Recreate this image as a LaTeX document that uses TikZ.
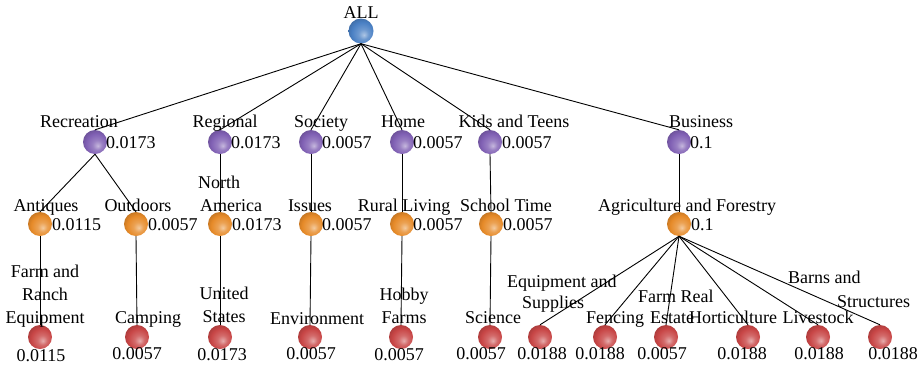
\documentclass[tikz,border=0pt]{standalone}
\usepackage{fontspec}
\setmainfont{Liberation Serif}

% sphere colours, one per tree level
\definecolor{sphBlueC}{HTML}{4A80C4}
\definecolor{sphPurpleC}{HTML}{8060B4}
\definecolor{sphOrangeC}{HTML}{E68A28}
\definecolor{sphRedC}{HTML}{C84646}

% glossy sphere shadings, lit from the lower right
\newcommand\declsphere[2]{%
  \pgfdeclareradialshading{#1}{\pgfpoint{6bp}{-8bp}}{%
    color(0bp)=(#2!45!white); color(10bp)=(#2!80!white);
    color(22bp)=(#2); color(33bp)=(#2!80!black); color(50bp)=(#2!45!black)}}
\declsphere{sphblue}{sphBlueC}
\declsphere{sphpurple}{sphPurpleC}
\declsphere{sphorange}{sphOrangeC}
\declsphere{sphred}{sphRedC}

\tikzset{
  sph/.style={circle, minimum size=24pt, inner sep=0pt, shading=sph#1},
  txt/.style={font=\fontsize{18}{23}\selectfont, inner sep=0pt, anchor=base},
  val/.style={txt, anchor=base west},
  edge/.style={draw=black, line width=0.9pt},
}

\begin{document}
\begin{tikzpicture}[x=1pt, y=-1pt]
\useasboundingbox[fill=white] (0,0) rectangle (920,370);

% ---------- spheres ----------
\node[sph=blue, minimum size=25pt] (all) at (361,31) {};

\node[sph=purple] (rec)  at (95,142)  {};
\node[sph=purple] (reg)  at (220,142) {};
\node[sph=purple] (soc)  at (311,142) {};
\node[sph=purple] (home) at (402,142) {};
\node[sph=purple] (kids) at (490,142) {};
\node[sph=purple] (bus)  at (679,142) {};

\node[sph=orange] (ant)  at (40,224)  {};
\node[sph=orange] (out)  at (136,224) {};
\node[sph=orange] (na)   at (220,224) {};
\node[sph=orange] (iss)  at (311,224) {};
\node[sph=orange] (rur)  at (402,224) {};
\node[sph=orange] (sch)  at (491,224) {};
\node[sph=orange] (agr)  at (679,224) {};

\node[sph=red] (frm)  at (40,337)  {};
\node[sph=red] (cmp)  at (137,337) {};
\node[sph=red] (us)   at (220,337) {};
\node[sph=red] (env)  at (310,337) {};
\node[sph=red] (hob)  at (401,337) {};
\node[sph=red] (sci)  at (490,337) {};
\node[sph=red] (eqp)  at (540,337) {};
\node[sph=red] (fen)  at (605,337) {};
\node[sph=red] (fre)  at (666,337) {};
\node[sph=red] (hor)  at (748,337) {};
\node[sph=red] (liv)  at (818,337) {};
\node[sph=red] (brn)  at (880,337) {};

% ---------- names (multi-line nodes sit on their last baseline) ----------
\node[txt] (tall) at (361,18) {ALL};

\node[txt] (trec)  at (79,127)  {Recreation};
\node[txt] (treg)  at (225,127) {Regional};
\node[txt] (tsoc)  at (321,127) {Society};
\node[txt] (thome) at (403,127) {Home};
\node[txt] (tkids) at (514,127) {Kids and Teens};
\node[txt] (tbus)  at (701,127) {Business};

\node[txt] (tant) at (46,211)  {Antiques};
\node[txt] (tout) at (138,211) {Outdoors};
\node[txt, anchor=base west, align=left] (tna) at (198,211) {North\\\hspace*{2pt}America};
\node[txt] (tiss) at (310,211) {Issues};
\node[txt] (trur) at (404,211) {Rural Living};
\node[txt] (tsch) at (506,211) {School Time};
\node[txt] (tagr) at (687,211) {Agriculture and Forestry};

\node[txt, align=center] (tfrm) at (45,323)  {Farm and\\Ranch\\Equipment};
\node[txt] (tcmp) at (148,323) {Camping};
\node[txt, align=center] (tus) at (224,322) {United\\States};
\node[txt] (tenv) at (317,324) {Environment};
\node[txt, align=center] (thob) at (404,323) {Hobby\\Farms};
\node[txt] (tsci) at (493,323) {Science};
\node[txt, anchor=base west, align=left] (teqp) at (507,308) {Equipment and\\[-2pt]\hspace*{15pt}Supplies};
\node[txt] (tfen) at (615,323) {Fencing};
\node[txt, anchor=base west, align=left] (tfre) at (638,323) {Farm Real\\[-2pt]\hspace*{12pt}Estate};
\node[txt] (thor) at (733,323) {Horticulture};
\node[txt] (tliv) at (818,323) {Livestock};
\node[txt, anchor=base west, align=left] (tbrn) at (788,307) {Barns and\\[1pt]\hspace*{49pt}Structures};

% ---------- values ----------
\node[val] (vrec)  at (106,148) {0.0173};
\node[val] (vreg)  at (231,148) {0.0173};
\node[val] (vsoc)  at (322,148) {0.0057};
\node[val] (vhome) at (413,148) {0.0057};
\node[val] (vkids) at (502,148) {0.0057};
\node[val] (vbus)  at (690,148) {0.1};

\node[val] (vant) at (52,230)  {0.0115};
\node[val] (vout) at (148,230) {0.0057};
\node[val] (vna)  at (232,230) {0.0173};
\node[val] (viss) at (322,230) {0.0057};
\node[val] (vrur) at (413,230) {0.0057};
\node[val] (vsch) at (503,230) {0.0057};
\node[val] (vagr) at (691,230) {0.1};

\node[txt] (vfrm) at (41,361)  {0.0115};
\node[txt] (vcmp) at (137,359) {0.0057};
\node[txt] (vus)  at (222,360) {0.0173};
\node[txt] (venv) at (311,359) {0.0057};
\node[txt] (vhob) at (399,360) {0.0057};
\node[txt] (vsci) at (481,359) {0.0057};
\node[txt] (veqp) at (542,359) {0.0188};
\node[txt] (vfen) at (600,359) {0.0188};
\node[txt] (vfre) at (662,359) {0.0057};
\node[txt] (vhor) at (742,359) {0.0188};
\node[txt] (vliv) at (819,359) {0.0188};
\node[txt] (vbrn) at (893,359) {0.0188};

% ---------- connectors ----------
\foreach \c in {rec,reg,soc,home,kids,bus}
  \draw[edge] (all.south) -- (\c.north);
\draw[edge] (rec.south) -- (ant.north);
\draw[edge] (rec.south) -- (out.north);
\draw[edge] (reg.south) -- (na.north);
\draw[edge] (soc.south) -- (iss.north);
\draw[edge] (home.south) -- (rur.north);
\draw[edge] (kids.south) -- (sch.north);
\draw[edge] (bus.south) -- (agr.north);
\draw[edge] (ant.south) -- (frm.north);
\draw[edge] (out.south) -- (cmp.north);
\draw[edge] (na.south) -- (us.north);
\draw[edge] (iss.south) -- (env.north);
\draw[edge] (rur.south) -- (hob.north);
\draw[edge] (sch.south) -- (sci.north);
\foreach \c in {eqp,fen,fre,hor,liv,brn}
  \draw[edge] (agr.south) -- (\c.north);
\end{tikzpicture}
\end{document}
